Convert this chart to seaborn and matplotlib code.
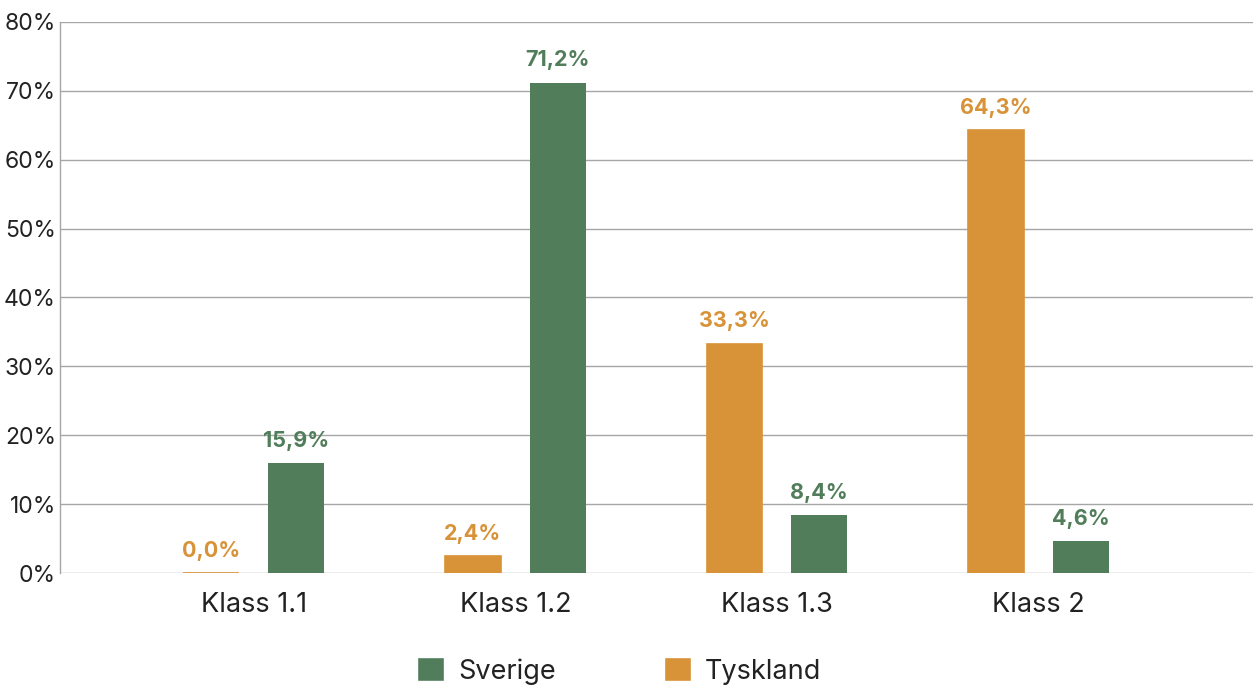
import pandas as pd
import matplotlib.pyplot as plt
from matplotlib.patches import Patch
import seaborn as sns

klasser = ['Klass 1.1', 'Klass 1.2', 'Klass 1.3', 'Klass 2']
tyskland = [0.0, 2.4, 33.3, 64.3]
sverige = [15.9, 71.2, 8.4, 4.6]
y_ticks = [0, 10, 20, 30, 40, 50, 60, 70, 80]

green = '#527d5a'
orange = '#d89237'

df = pd.DataFrame({
    'klass': klasser * 2,
    'land': ['Tyskland'] * 4 + ['Sverige'] * 4,
    'andel': tyskland + sverige,
})

sns.set_style('white')
plt.rcParams['font.family'] = ['Inter', 'DejaVu Sans']

fig = plt.figure(figsize=(12.53, 6.85), dpi=100)
ax = fig.add_axes([0.048, 0.1635, 0.952, 0.8045])

sns.barplot(data=df, x='klass', y='andel', hue='land', hue_order=['Tyskland', 'Sverige'],
            palette=[orange, green], saturation=1, width=0.648, gap=0.34, legend=False, ax=ax,
            edgecolor=None, linewidth=0)

# keep the 0,0% bar visible as a thin line like the original
for bar in ax.containers[0]:
    bar.set_edgecolor(orange)
    bar.set_linewidth(1.2)

for cont, color in zip(ax.containers, [orange, green]):
    labels = [f'{v.get_height():.1f}%'.replace('.', ',') for v in cont]
    ax.bar_label(cont, labels=labels, padding=9, color=color,
                 fontsize=15.5, fontweight='bold')

ax.set_ylim(0, 80)
ax.set_xlim(-0.74, 3.82)
ax.set_yticks(y_ticks)
ax.set_yticklabels([f'{t}%' for t in y_ticks])
ax.yaxis.grid(True, color='#a6a6a6', linewidth=1)
ax.set_axisbelow(True)
ax.set_xlabel('')
ax.set_ylabel('')
ax.tick_params(axis='y', length=0, pad=3, labelsize=16.5, labelcolor='#222222')
ax.tick_params(axis='x', length=0, pad=14, labelsize=19.5, labelcolor='#222222')

for side in ['top', 'right', 'bottom']:
    ax.spines[side].set_visible(False)
ax.spines['left'].set_color('#a6a6a6')
ax.spines['left'].set_linewidth(1)

handles = [Patch(facecolor=green, label='Sverige'), Patch(facecolor=orange, label='Tyskland')]
fig.legend(handles=handles, loc='lower center', bbox_to_anchor=(0.494, -0.035), ncol=2,
           frameon=False, fontsize=19.5, handlelength=1.0, handleheight=1.0,
           handletextpad=0.5, columnspacing=4.0, labelcolor='#222222')

fig.savefig('out.png', dpi=100)
